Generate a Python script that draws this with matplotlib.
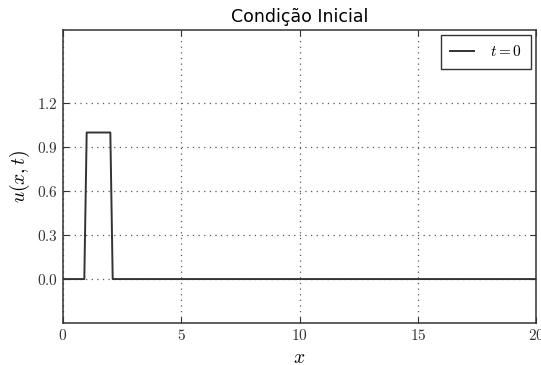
import numpy as np
import matplotlib.pyplot as plt
from matplotlib.ticker import FuncFormatter

plt.rcParams['mathtext.fontset'] = 'cm'

# condicao inicial: pulso quadrado entre x=1 e x=2
x = [0.0, 0.9, 1.0, 2.0, 2.1, 20.0]
u = [0.0, 0.0, 1.0, 1.0, 0.0, 0.0]

xticks = [0, 5, 10, 15, 20]
yticks = [0.0, 0.3, 0.6, 0.9, 1.2]

fig = plt.figure(figsize=(5.41, 3.65), dpi=100, facecolor='white')
ax = fig.add_axes([0.1165, 0.115, 0.8745, 0.803])

ax.plot(x, u, color='0.2', lw=1.4, label='$t=0$')

ax.set_xlim(0, 20)
ax.set_ylim(-0.3, 1.7)
ax.set_xticks(xticks)
ax.set_yticks(yticks)
ax.xaxis.set_major_formatter(FuncFormatter(lambda v, p: '$%d$' % v))
ax.yaxis.set_major_formatter(FuncFormatter(lambda v, p: '$%.1f$' % v))
ax.tick_params(direction='in', top=True, right=True, length=4, labelsize=11,
               colors='0.2')
ax.grid(True, color='0.35', linestyle=(0, (1, 3.5)), linewidth=0.9)
for s in ax.spines.values():
    s.set_linewidth(1.1)
    s.set_color('0.2')

ax.set_title('Condição Inicial', fontsize=12.5)
ax.set_xlabel('$x$', fontsize=14)
ax.set_ylabel('$u(x,t)$', fontsize=14)

leg = ax.legend(loc='upper right', fancybox=False, framealpha=1, edgecolor='0.2',
                fontsize=11, handlelength=1.6, handletextpad=1.0,
                borderpad=0.6, borderaxespad=0.35)
leg.get_frame().set_linewidth(1.0)

fig.savefig('out.png', dpi=100, facecolor='white')
